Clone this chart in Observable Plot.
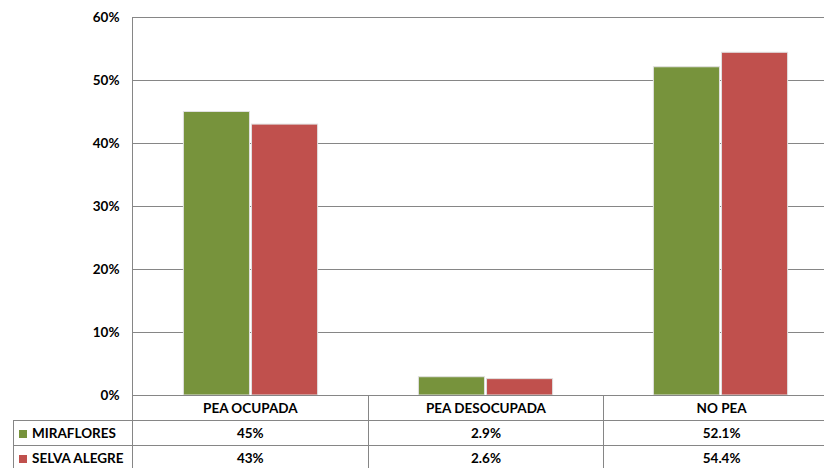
<!DOCTYPE html>
<html>
<head>
<meta charset="utf-8">
<script src="https://cdn.jsdelivr.net/npm/d3@7"></script>
<script src="https://cdn.jsdelivr.net/npm/@observablehq/plot@0.6"></script>
<style>
  body { margin: 0; background: #fff; }
  #wrap { position: relative; width: 824px; height: 468px; overflow: hidden; background: #fff;
          font-family: Lato, "Liberation Sans", sans-serif; font-weight: bold; font-size: 13.5px; color: #000; }
  #chart { position: absolute; left: 0; top: 0; width: 839px; }
  #chart svg { max-width: none !important; }
  #axisline { position: absolute; left: 132px; top: 17px; height: 378px; width: 0; border-left: 1px solid #868686; }
  table { position: absolute; left: 13px; top: 395px; border-collapse: collapse; table-layout: fixed; width: 826px; }
  td, th { height: 24px; padding: 0; text-align: center; vertical-align: middle; font-weight: bold; border: 1px solid #868686; }
  th.blank { border-top: none; border-left: none; border-bottom: 1px solid #868686; }
  td.lab { text-align: left; padding-left: 5px; white-space: nowrap; }
  .sw { display: inline-block; width: 8px; height: 8px; margin-right: 5px; vertical-align: 0px; }
</style>
</head>
<body>
<div id="wrap">
  <div id="chart"></div>
  <div id="axisline"></div>
  <table id="tbl"></table>
</div>
<script>
const categories = ["PEA OCUPADA", "PEA DESOCUPADA", "NO PEA"];
const series = ["MIRAFLORES", "SELVA ALEGRE"];
const miraflores = [45, 2.9, 52.1];
const selvaAlegre = [43, 2.6, 54.4];
const colors = ["#77933C", "#C0504D"];
const yTicks = [0, 10, 20, 30, 40, 50, 60];

const seriesValues = [miraflores, selvaAlegre];
const data = categories.flatMap((c, i) =>
  series.map((s, j) => ({category: c, series: s, value: seriesValues[j][i]}))
);

const chart = Plot.plot({
  width: 839,
  height: 396,
  marginLeft: 132,
  marginRight: 0,
  marginTop: 17,
  marginBottom: 1,
  fx: {domain: categories, padding: 0, axis: null},
  x: {domain: series, paddingInner: 0.03, paddingOuter: 0.74, round: false, axis: null},
  y: {domain: [0, 60]},
  color: {domain: series, range: colors},
  style: {fontFamily: "Lato, 'Liberation Sans', sans-serif", fontSize: "13.5px", fontWeight: "bold", color: "#000", background: "transparent", overflow: "visible", maxWidth: "none"},
  marks: [
    Plot.gridY(yTicks, {stroke: "#868686", strokeOpacity: 1}),
    Plot.barY(data, {fx: "category", x: "series", y: "value", fill: "series", stroke: "#e0e0e0", strokeWidth: 1}),
    Plot.axisY(yTicks, {tickSize: 0, tickPadding: 14, tickFormat: d => d + "%", fontWeight: "bold", fontSize: 13.5, fill: "#000", label: null})
  ]
});
chart.style.maxWidth = "none";
document.getElementById("chart").appendChild(chart);

// Data table below the chart
const tbl = d3.select("#tbl");
const cg = tbl.append("colgroup");
cg.append("col").style("width", "119px");
categories.forEach(() => cg.append("col").style("width", "235.67px"));
const head = tbl.append("tr");
head.append("th").attr("class", "blank");
categories.forEach(c => head.append("th").text(c));
series.forEach((s, j) => {
  const tr = tbl.append("tr");
  const lab = tr.append("td").attr("class", "lab");
  lab.append("span").attr("class", "sw").style("background", colors[j]);
  lab.append("span").text(s);
  seriesValues[j].forEach(v => tr.append("td").text(v + "%"));
});
</script>
</body>
</html>
